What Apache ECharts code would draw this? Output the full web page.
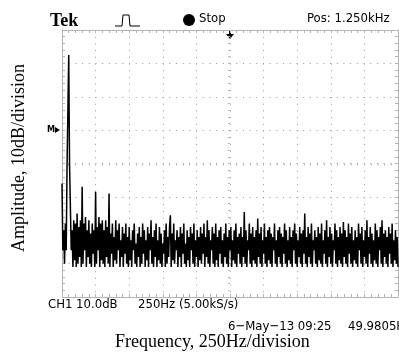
<!DOCTYPE html>
<html>
<head>
<meta charset="utf-8">
<script src="https://cdn.jsdelivr.net/npm/echarts@6/dist/echarts.min.js"></script>
<style>
  html, body { margin: 0; padding: 0; background: #fff; }
  #chart { width: 399px; height: 360px; }
</style>
</head>
<body>
<div id="chart"></div>
<script>
// FFT of the scope: 0 - 2500 Hz, one point every 6.25 Hz, amplitude in dB
const freqStep = 6.25
const amplitudeDb = [
  -46, -66, -60, -70, -58, -66, -41, -40.5, -7.5, -40.5,
  -41, -66, -60, -71, -57, -69, -58, -71, -55, -70,
  -59, -68, -57, -71, -47, -70, -58, -66, -56, -71,
  -60, -68, -57, -70, -61, -71, -58, -67, -60, -71,
  -48.5, -70, -59, -66, -56, -71, -58, -69, -57, -70,
  -60, -71, -57, -68, -59, -70, -49, -71, -61, -67,
  -58, -71, -62, -69, -57, -70, -60, -66, -58, -71,
  -63, -68, -59, -71, -61, -67, -58, -70, -62, -71,
  -59, -69, -63, -71, -60, -66, -58, -70, -64, -71,
  -61, -68, -59, -71, -62, -70, -58, -67, -60, -71,
  -63, -69, -59, -71, -61, -66, -57, -70, -62, -71,
  -60, -68, -58, -71, -63, -69, -59, -70, -61, -71,
  -64, -67, -60, -71, -58, -70, -62, -68, -59, -55.5,
  -71, -61, -69, -58, -70, -63, -66, -60, -71, -62,
  -68, -59, -71, -61, -67, -58, -70, -64, -71, -60,
  -69, -62, -71, -59, -66, -61, -70, -58, -71, -63,
  -68, -60, -71, -62, -69, -59, -70, -61, -67, -58,
  -71, -62, -68, -57, -70, -60, -71, -63, -66, -59,
  -70, -61, -71, -58, -69, -62, -71, -60, -67, -59,
  -70, -63, -71, -61, -68, -58, -70, -62, -71, -60,
  -66, -59, -71, -63, -69, -60, -70, -58, -71, -62,
  -67, -61, -70, -59, -71, -62, -68, -54.5, -70, -60,
  -71, -63, -66, -58, -70, -61, -71, -59, -69, -62,
  -70, -60, -71, -56.5, -68, -61, -70, -59, -71, -63,
  -67, -58, -70, -62, -71, -60, -69, -59, -70, -61,
  -71, -62, -66, -58, -70, -63, -71, -60, -68, -59,
  -70, -61, -71, -62, -67, -58, -70, -60, -71, -63,
  -69, -59, -70, -62, -71, -60, -66, -58, -70, -61,
  -71, -63, -68, -59, -70, -61, -71, -60, -67, -55,
  -70, -62, -71, -59, -68, -61, -70, -58, -71, -63,
  -66, -60, -70, -62, -71, -59, -69, -61, -70, -58,
  -71, -63, -67, -60, -70, -57, -71, -62, -68, -59,
  -70, -61, -71, -63, -66, -58, -70, -60, -71, -62,
  -69, -59, -70, -61, -71, -57.5, -68, -60, -70, -62,
  -71, -58, -67, -61, -70, -59, -71, -63, -69, -60,
  -70, -62, -71, -58, -66, -61, -70, -59, -71, -63,
  -68, -60, -70, -57, -71, -62, -67, -59, -70, -61,
  -71, -63, -69, -58, -70, -60, -71, -62, -66, -59,
  -70, -57, -71, -61, -68, -60, -70, -62, -71, -59,
  -67, -61, -70, -58, -71, -63, -69, -60, -70, -62,
  -71
]
const freqMin = 0, freqMax = 2500, freqDiv = 250
const dbMin = -80, dbMax = 0, dbDiv = 10

const gridColor = '#b4b4b4'
const scopeFont = "'Liberation Sans Narrow', 'DejaVu Sans Condensed', sans-serif"
const serifFont = "'Liberation Serif', 'DejaVu Serif', serif"

const points = amplitudeDb.map((v, i) => [i * freqStep, v])

// frame axis: a line with small ticks every 1/5 division
function frameAxis(kind, position, extra) {
  const isX = kind === 'x'
  return Object.assign({
    type: 'value',
    position: position,
    min: isX ? freqMin : dbMin,
    max: isX ? freqMax : dbMax,
    interval: isX ? freqDiv : dbDiv,
    axisLabel: { show: false },
    axisLine: { show: true, onZero: false, lineStyle: { color: gridColor, width: 1 } },
    axisTick: { show: true, inside: true, length: 3, lineStyle: { color: gridColor } },
    minorTick: { show: true, splitNumber: 5, length: 3, lineStyle: { color: gridColor } },
    splitLine: { show: false }
  }, extra || {})
}

const chart = echarts.init(document.getElementById('chart'), null, { renderer: 'canvas' })

chart.setOption({
  animation: false,
  backgroundColor: '#fff',
  grid: { left: 62, right: 1, top: 30, bottom: 63 },
  xAxis: [
    frameAxis('x', 'bottom', {
      splitLine: { show: true, lineStyle: { color: '#9a9a9a', type: [1, 5.7], width: 1 } }
    }),
    frameAxis('x', 'top'),
    frameAxis('x', 'bottom', {
      offset: -133.5,
      axisLine: { show: false, onZero: false },
      axisTick: { show: true, inside: false, length: 2, lineStyle: { color: gridColor } },
      minorTick: { show: true, splitNumber: 5, length: 2, lineStyle: { color: gridColor } }
    })
  ],
  yAxis: [
    frameAxis('y', 'left', {
      splitLine: { show: true, lineStyle: { color: '#9a9a9a', type: [1, 5.7], width: 1 } }
    }),
    frameAxis('y', 'right'),
    frameAxis('y', 'left', {
      offset: -168,
      axisLine: { show: false, onZero: false },
      axisTick: { show: true, inside: false, length: 2, lineStyle: { color: gridColor } },
      minorTick: { show: true, splitNumber: 5, length: 2, lineStyle: { color: gridColor } }
    })
  ],
  series: [{
    type: 'line',
    xAxisIndex: 0,
    yAxisIndex: 0,
    data: points,
    showSymbol: false,
    clip: true,
    lineStyle: { color: '#000', width: 1.5 }
  }],
  graphic: [
    // scope header
    { type: 'text', left: 50, top: 12, style: { text: 'Tek', font: 'bold 18px ' + serifFont, fill: '#000' } },
    { type: 'polyline', shape: { points: [[115, 26], [122, 26], [123, 15], [129, 15], [130, 26], [140, 26]] },
      style: { stroke: '#000', lineWidth: 1, fill: null } },
    { type: 'circle', shape: { cx: 189, cy: 20, r: 6 }, style: { fill: '#000' } },
    { type: 'text', left: 199, top: 12, style: { text: 'Stop', font: '13px ' + scopeFont, fill: '#000' } },
    { type: 'text', left: 307, top: 12, style: { text: 'Pos: 1.250kHz', font: '13px ' + scopeFont, fill: '#000' } },
    // trigger position arrow
    { type: 'line', shape: { x1: 230, y1: 30, x2: 230, y2: 36 }, style: { stroke: '#000', lineWidth: 2 } },
    { type: 'polygon', shape: { points: [[226, 34], [234, 34], [230, 39]] }, style: { fill: '#000' } },
    // reference marker
    { type: 'text', left: 47, top: 125, style: { text: 'M', font: 'bold 9px ' + scopeFont, fill: '#000' } },
    { type: 'polygon', shape: { points: [[55, 127], [55, 133], [60, 130]] }, style: { fill: '#000' } },
    // scope footer
    { type: 'text', left: 48, top: 298, style: { text: 'CH1 10.0dB', font: '13px ' + scopeFont, fill: '#000' } },
    { type: 'text', left: 138, top: 298, style: { text: '250Hz (5.00kS/s)', font: '13px ' + scopeFont, fill: '#000' } },
    { type: 'text', left: 228, top: 320, style: { text: '6\u2212May\u221213 09:25', font: '13px ' + scopeFont, fill: '#000' } },
    { type: 'text', left: 348, top: 320, style: { text: '49.9805Hz', font: '13px ' + scopeFont, fill: '#000' } },
    // axis captions
    { type: 'text', left: 115, top: 333, style: { text: 'Frequency, 250Hz/division', font: '18px ' + serifFont, fill: '#000' } },
    { type: 'text', x: 19, y: 158, rotation: Math.PI / 2,
      style: { text: 'Amplitude, 10dB/division', font: '18px ' + serifFont, fill: '#000', align: 'center', verticalAlign: 'middle' } }
  ]
})
</script>
</body>
</html>
